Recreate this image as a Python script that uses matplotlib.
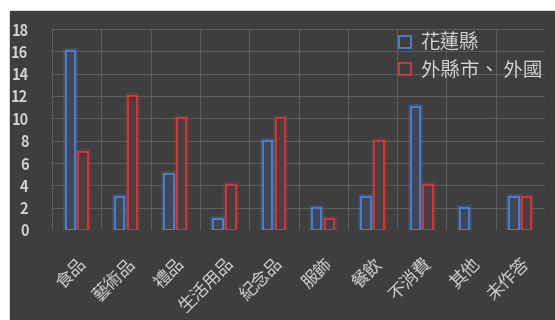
import matplotlib.pyplot as plt
import matplotlib.patches as patches
import numpy as np

plt.rcParams['font.family'] = ['Noto Sans CJK TC', 'DejaVu Sans']

# 資料
categories = ['食品', '藝術品', '禮品', '生活用品', '紀念品', '服飾', '餐飲', '不消費', '其他', '未作答']
hualien = [16, 3, 5, 1, 8, 2, 3, 11, 2, 3]
other = [7, 12, 10, 4, 10, 1, 8, 4, 0, 3]
series_names = ['花蓮縣', '外縣市、 外國']

bg = '#3e3e3e'
grid_c = '#5c5c5c'
text_c = '#d2d2d2'
blue = '#4f86dc'
red = '#d83a3e'

fig = plt.figure(figsize=(5.55, 3.2), dpi=100, facecolor='white')
# dark panel (white strip at top and left like the scan)
fig.patches.append(patches.Rectangle((10 / 555, 0), 1, (320 - 11) / 320,
                                     transform=fig.transFigure, color=bg, zorder=-5))

ax = fig.add_axes([52 / 555, 90 / 320, 493 / 555, 201 / 320])
ax.set_zorder(2)
ax.set_facecolor(bg)
ax.patch.set_alpha(0)

x = np.arange(len(categories))
w = 0.19
off = 0.13

for vals, col, face, dx in [(hualien, blue, '#3f4656', -off), (other, red, '#4c3c3e', off)]:
    # soft glow
    glow = ax.bar(x + dx, vals, w, facecolor='none', edgecolor=col, linewidth=4, alpha=0.25, zorder=3)
    bars = ax.bar(x + dx, vals, w, facecolor=face, edgecolor=col, linewidth=1.2, zorder=4)
    for r1, r2 in zip(glow, bars):
        if r2.get_height() == 0:
            r1.set_visible(False)
            r2.set_visible(False)

ax.set_xlim(-0.5, len(categories) - 0.5)
ax.set_ylim(0, 18)
ax.set_yticks(range(0, 19, 2))
ax.set_xticks(np.arange(-0.5, len(categories), 1), minor=False)
ax.set_xticklabels([])
ax.grid(True, color=grid_c, linewidth=0.8, zorder=0)
ax.tick_params(length=0, colors=text_c)
ax.tick_params(axis='y', labelsize=10.5, pad=17)
for lab in ax.get_yticklabels():
    lab.set_horizontalalignment('right')
    lab.set_fontweight('bold')
for s in ax.spines.values():
    s.set_visible(False)

for i, c in enumerate(categories):
    ax.text(i, -2.2, c, rotation=45, ha='right', va='top', rotation_mode='anchor',
            fontsize=12.5, color=text_c)

# legend
handles = [plt.Line2D([], [], marker='s', linestyle='none', markersize=9,
                      markerfacecolor='none', markeredgecolor=col, markeredgewidth=1.2)
           for col in [blue, red]]
leg = ax.legend(handles, series_names, loc='upper left', bbox_to_anchor=(0.685, 1.02),
                frameon=False, fontsize=14, handlelength=0.8, handletextpad=0.4,
                labelspacing=0.3, borderaxespad=0)
for t in leg.get_texts():
    t.set_color(text_c)

fig.savefig('out.png', dpi=100, facecolor=fig.get_facecolor())
